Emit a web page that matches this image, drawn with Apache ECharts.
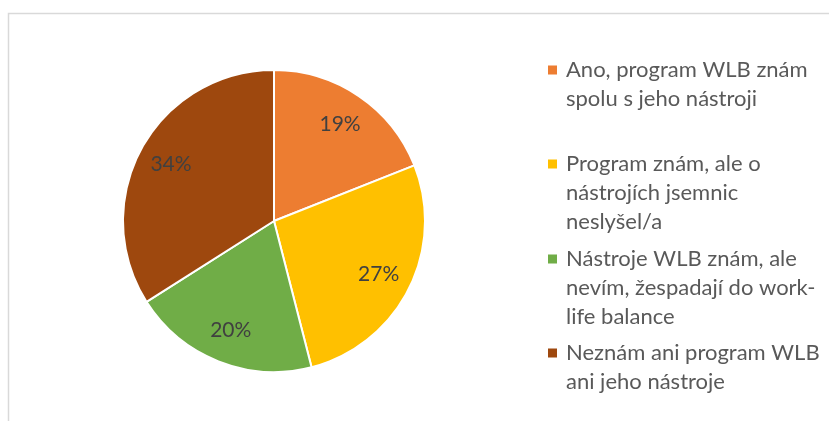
<!DOCTYPE html>
<html>
<head>
<meta charset="utf-8">
<script src="https://cdn.jsdelivr.net/npm/echarts@6/dist/echarts.min.js"></script>
<style>
  html, body { margin: 0; padding: 0; background: #fff; }
  #main { width: 829px; height: 421px; }
</style>
</head>
<body>
<div id="main"></div>
<script>
// data
const categories = [
  'Ano, program WLB znám\nspolu s jeho nástroji',
  'Program znám, ale o\nnástrojích jsemnic\nneslyšel/a',
  'Nástroje WLB znám, ale\nnevím, žespadají do work-\nlife balance',
  'Neznám ani program WLB\nani jeho nástroje'
]
const values = [19, 27, 20, 34]
const colors = ['#ED7D31', '#FFC000', '#70AD47', '#9E480E']
// centre of the first text line of each legend item (y px)
const legendFirstLine = [70, 164, 259, 353]

const font = 'Lato, "Open Sans", sans-serif'
const lineH = 29

const chart = echarts.init(document.getElementById('main'), null, { renderer: 'canvas' })

const pieData = categories.map((name, i) => ({
  name: name,
  value: values[i],
  itemStyle: { color: colors[i] }
}))

// square sitting next to the first line, path padded so it spans the whole text block
function legendIcon (lines) {
  const h = lines * lineH
  const y0 = lineH / 2 - 4.5
  return 'path://M0,' + y0 + 'h9v9h-9z M0,0h0.01v0.01h-0.01z M0,' + (h - 0.01) + 'h0.01v0.01h-0.01z'
}

// one legend per item so spacing can follow the picture
const legends = categories.map((name, i) => {
  const n = name.split('\n').length
  return {
    data: [{ name: name, icon: legendIcon(n) }],
    orient: 'vertical',
    left: 548,
    top: legendFirstLine[i] - lineH / 2,
    padding: 0,
    itemWidth: 9,
    itemHeight: n * lineH,
    selectedMode: false,
    itemStyle: { borderWidth: 0 },
    textStyle: {
      color: '#595959',
      fontFamily: font,
      fontSize: 22,
      lineHeight: lineH,
      padding: [0, 0, 0, 4]
    }
  }
})

chart.setOption({
  animation: false,
  graphic: [
    {
      type: 'rect',
      shape: { x: 8.5, y: 13.5, width: 900, height: 500 },
      style: { fill: 'none', stroke: '#d9d9d9', lineWidth: 1.5 },
      silent: true
    }
  ],
  legend: legends,
  series: [
    {
      type: 'pie',
      center: [274, 221],
      radius: [0, 151],
      startAngle: 90,
      clockwise: true,
      data: pieData,
      itemStyle: { borderColor: '#fff', borderWidth: 2 },
      label: { show: false },
      labelLine: { show: false },
      emphasis: { disabled: true }
    },
    {
      // transparent ring only used to put the percent labels at ~3/4 radius
      type: 'pie',
      center: [274, 221],
      radius: [78, 151],
      startAngle: 90,
      clockwise: true,
      silent: true,
      data: pieData.map(d => ({ name: d.name, value: d.value })),
      itemStyle: { color: 'rgba(0,0,0,0)', borderWidth: 0 },
      label: {
        show: true,
        position: 'inside',
        formatter: '{c}%',
        color: '#404040',
        fontFamily: font,
        fontSize: 21
      },
      labelLine: { show: false },
      emphasis: { disabled: true }
    }
  ]
})
</script>
</body>
</html>
